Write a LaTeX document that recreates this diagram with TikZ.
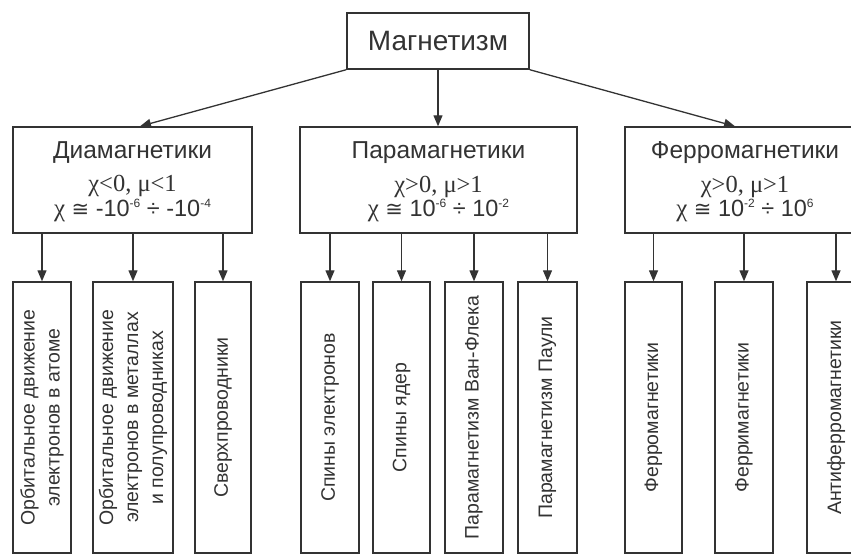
\documentclass[tikz,border=0pt]{standalone}
\usepackage{fontspec}
\setmainfont{Liberation Sans}
\newfontfamily\grk{Liberation Serif}
\newfontfamily\dvs{DejaVu Sans}
\usetikzlibrary{arrows.meta}
\definecolor{ink}{HTML}{333333}
\definecolor{txt}{HTML}{333333}
\newcommand{\supx}[1]{\raisebox{9pt}{\fontsize{12}{12}\selectfont #1}}
\begin{document}
\begin{tikzpicture}[x=1pt,y=-1pt,
  box/.style={draw=ink, line width=1.4pt, fill=white, inner sep=0pt},
  midbox/.style={box, minimum height=106pt},
  lowbox/.style={box, minimum height=271pt},
  arr/.style={draw=ink, line width=1.3pt, -{Triangle[length=11pt,width=9pt]}},
  lbl/.style={text=txt, inner sep=0pt, anchor=base},
  ttlfont/.style={font=\fontsize{24.5}{24.5}\selectfont},
  grkfont/.style={font=\grk\fontsize{24.5}{24.5}\selectfont},
  frmfont/.style={font=\fontsize{23.5}{23.5}\selectfont},
  vlbl/.style={text=txt, inner sep=0pt, rotate=90, align=center, font=\fontsize{19.5}{25}\selectfont}]
\useasboundingbox (0,0) rectangle (851,555);
\clip (0,0) rectangle (851,555);

% top
\node[box, minimum width=182pt, minimum height=56pt, text=txt, font=\fontsize{28}{28}\selectfont] (top) at (438,41) {Магнетизм};

% middle boxes
\node[midbox, minimum width=239pt] (dia) at (132.5,180) {};
\node[midbox, minimum width=277pt] (para) at (438.5,180) {};
\node[midbox, minimum width=240pt] (ferro) at (745,180) {};

\node[lbl, ttlfont] (diaT) at (132.5,158) {Диамагнетики};
\node[lbl, grkfont] (diaA) at (132.5,191) {χ<0, μ<1};
\node[lbl, frmfont] (diaB) at (132.5,216) {{\grk\fontsize{25}{25}\selectfont χ} {\dvs\fontsize{21}{21}\selectfont ≅} -10\supx{-6} ÷ -10\supx{-4}};

\node[lbl, ttlfont] (paraT) at (438.5,158) {Парамагнетики};
\node[lbl, grkfont] (paraA) at (438.5,192) {χ>0, μ>1};
\node[lbl, frmfont] (paraB) at (438.5,216) {{\grk\fontsize{25}{25}\selectfont χ} {\dvs\fontsize{21}{21}\selectfont ≅} 10\supx{-6} ÷ 10\supx{-2}};

\node[lbl, ttlfont] (ferroT) at (745,158) {Ферромагнетики};
\node[lbl, grkfont] (ferroA) at (745,192) {χ>0, μ>1};
\node[lbl, frmfont] (ferroB) at (745,216) {{\grk\fontsize{25}{25}\selectfont χ} {\dvs\fontsize{21}{21}\selectfont ≅} 10\supx{-2} ÷ 10\supx{6}};

% bottom boxes
\node[lowbox, minimum width=58pt] (d1) at (42,417.5) {};
\node[lowbox, minimum width=80pt] (d2) at (133,417.5) {};
\node[lowbox, minimum width=56pt] (d3) at (223,417.5) {};
\node[lowbox, minimum width=58pt] (p1) at (330,417.5) {};
\node[lowbox, minimum width=57pt] (p2) at (401.5,417.5) {};
\node[lowbox, minimum width=58pt] (p3) at (474,417.5) {};
\node[lowbox, minimum width=59pt] (p4) at (547.5,417.5) {};
\node[lowbox, minimum width=57pt] (f1) at (653.5,417.5) {};
\node[lowbox, minimum width=58pt] (f2) at (744,417.5) {};
\node[lowbox, minimum width=58pt] (f3) at (836,417.5) {};

\node[vlbl] (d1t) at (d1.center) {Орбитальное движение\\электронов в атоме};
\node[vlbl] (d2t) at (d2.center) {Орбитальное движение\\электронов в металлах\\и полупроводниках};
\node[vlbl] (d3t) at (d3.center) {Сверхпроводники};
\node[vlbl] (p1t) at (p1.center) {Спины электронов};
\node[vlbl] (p2t) at (p2.center) {Спины ядер};
\node[vlbl] (p3t) at (p3.center) {Парамагнетизм Ван-Флека};
\node[vlbl] (p4t) at (p4.center) {Парамагнетизм Паули};
\node[vlbl] (f1t) at (f1.center) {Ферромагнетики};
\node[vlbl] (f2t) at (f2.center) {Ферримагнетики};
\node[vlbl] (f3t) at (f3.center) {Антиферромагнетики};

% connectors
\draw[arr] (top.south west) -- ([xshift=7.5pt]dia.north);
\draw[arr] (top.south) -- (top.south |- para.north);
\draw[arr] (top.south east) -- ([xshift=-10pt]ferro.north);

\foreach \b in {d1,d2,d3} \draw[arr] (\b.north |- dia.south) -- (\b.north);
\foreach \b in {p1,p2,p3,p4} \draw[arr] (\b.north |- para.south) -- (\b.north);
\foreach \b in {f1,f2,f3} \draw[arr] (\b.north |- ferro.south) -- (\b.north);
\end{tikzpicture}
\end{document}
